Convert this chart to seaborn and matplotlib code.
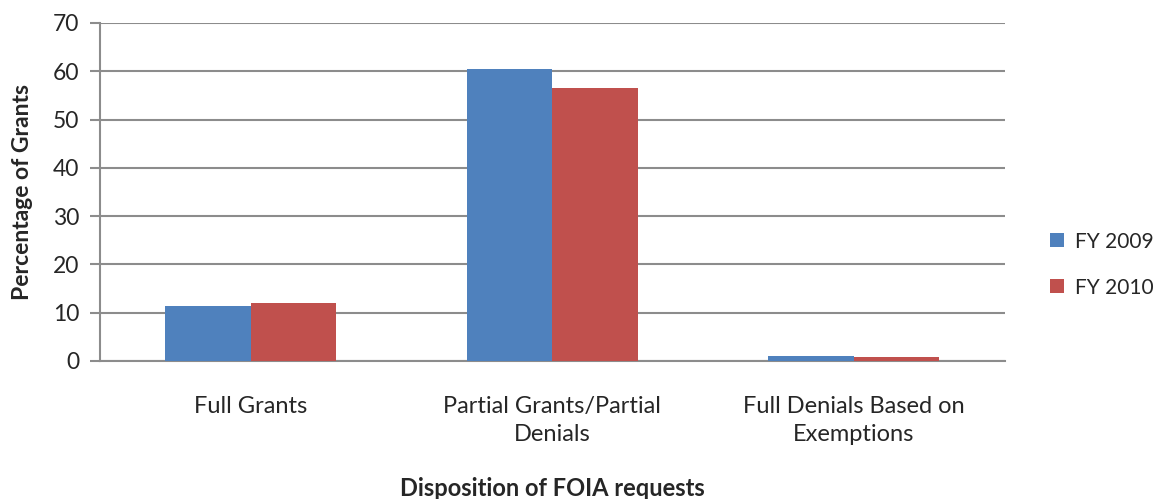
import matplotlib
matplotlib.use("Agg")
import matplotlib.pyplot as plt
import seaborn as sns
import pandas as pd

categories = ["Full Grants", "Partial Grants/Partial\nDenials", "Full Denials Based on\nExemptions"]
fy2009 = [11.4, 60.4, 1.1]
fy2010 = [12.1, 56.6, 0.8]
series_names = ["FY 2009", "FY 2010"]
y_ticks = [0, 10, 20, 30, 40, 50, 60, 70]

df = pd.DataFrame({
    "Category": categories * 2,
    "Value": fy2009 + fy2010,
    "Series": [series_names[0]] * 3 + [series_names[1]] * 3,
})

sns.set_theme(style="white")
plt.rcParams["font.family"] = ["Lato", "DejaVu Sans"]

fig = plt.figure(figsize=(11.56, 4.99), dpi=100)
ax = fig.add_axes([0.0865, 0.2766, 0.7825, 0.6774])

palette = {"FY 2009": "#4F81BD", "FY 2010": "#C0504D"}
sns.barplot(data=df, x="Category", y="Value", hue="Series", palette=palette,
            width=0.567, saturation=1, linewidth=0, ax=ax, zorder=3)

ax.set_ylim(0, 70)
ax.set_yticks(y_ticks)
ax.set_xlim(-0.5, 2.5)
ax.yaxis.grid(True, color="#8c8c8c", linewidth=1.5, zorder=0)
ax.set_axisbelow(True)
for s in ["top", "right"]:
    ax.spines[s].set_visible(False)
ax.spines["left"].set_color("#8c8c8c")
ax.spines["left"].set_linewidth(1.5)
ax.spines["bottom"].set_color("#8c8c8c")
ax.spines["bottom"].set_linewidth(1.5)
ax.tick_params(axis="y", which="major", left=True, length=7, width=1.5, color="#8c8c8c",
               labelsize=16.5, pad=8)
ax.tick_params(axis="x", bottom=False, labelsize=17, pad=19)
for lbl in ax.get_xticklabels():
    lbl.set_horizontalalignment("center")
    lbl.set_linespacing(1.45)

ax.set_ylabel("Percentage of Grants", fontsize=16.5, fontweight="bold", labelpad=14)
ax.set_xlabel("Disposition of FOIA requests", fontsize=17, fontweight="bold")
ax.xaxis.label.set_verticalalignment("center")
ax.xaxis.set_label_coords(0.5, -0.378)

leg = ax.legend(loc="center left", bbox_to_anchor=(1.03, 0.285), frameon=False,
                fontsize=15, handlelength=0.65, handleheight=0.65, handletextpad=0.55,
                labelspacing=1.25)

fig.savefig("out.png", dpi=100)
